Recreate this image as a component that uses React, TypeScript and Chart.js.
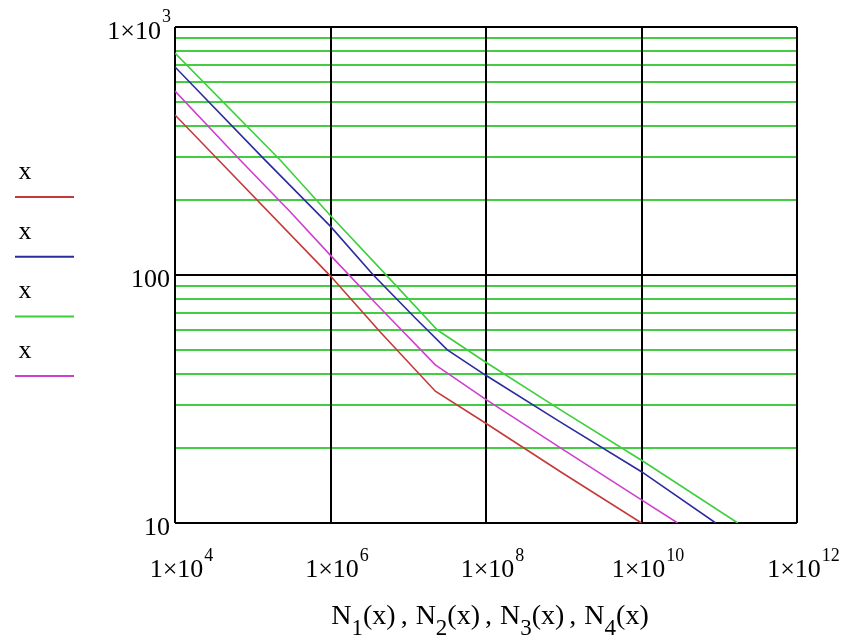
import { useEffect, useRef } from 'react';
import { Chart, registerables } from 'chart.js';
Chart.register(...registerables);

// ---- data (N on x axis, x on y axis) ----
const redN = [1e4, 1e6, 4.36e6, 2.23e7, 9.82e7, 9.08e8, 1e10];
const redX = [442, 99, 58.9, 34.0, 25.3, 16.1, 10];

const blueN = [1e4, 1.36e5, 1e6, 3.55e6, 1.23e7, 3.18e7, 9.82e7, 9.08e8, 1e10, 9.0e10];
const blueX = [690, 296, 157, 100, 67.1, 49.9, 39.5, 25.5, 16.1, 10];

const greenN = [1e4, 2.25e5, 1.01e6, 5.37e6, 2.37e7, 9.82e7, 9.08e8, 1e10, 1.73e11];
const greenX = [785, 291, 173, 99, 60.0, 44.6, 28.6, 17.9, 10];

const magentaN = [1e4, 6.87e4, 3.03e5, 1e6, 4.36e6, 2.23e7, 9.82e7, 9.08e8, 1e10, 2.92e10];
const magentaX = [552, 291, 180, 120, 73.6, 43.4, 31.6, 20.1, 12.4, 10];

const seriesLabels = ['x', 'x', 'x', 'x'];
const seriesColors = ['#c43a3a', '#2b2b9e', '#3ccf3c', '#cf3fcf'];

const xTicks = [1e4, 1e6, 1e8, 1e10, 1e12];
const xTickExps = ['4', '6', '8', '10', '12'];
const yTicks = [10, 20, 30, 40, 50, 60, 70, 80, 90, 100, 200, 300, 400, 500, 600, 700, 800, 900, 1000];
const yMajor = [10, 100, 1000];
const yLabelMain = ['10', '100', '1×10'];
const yLabelSup = ['', '', '3'];
const titleParts = [['N', '1'], ['N', '2'], ['N', '3'], ['N', '4']];

const FONT = '"Liberation Serif", "DejaVu Serif", serif';

const pts = (xs: number[], ys: number[]) => xs.map((v, i) => ({ x: v, y: ys[i] }));

const decorPlugin = {
  id: 'decor',
  afterDraw(chart: any) {
    const ctx = chart.ctx as CanvasRenderingContext2D;
    const xs = chart.scales.x;
    const ys = chart.scales.y;
    ctx.save();
    ctx.fillStyle = '#000';
    ctx.textBaseline = 'alphabetic';
    ctx.textAlign = 'left';
    const mainF = `26px ${FONT}`;
    const supF = `18px ${FONT}`;

    // x tick labels
    xTicks.forEach((v, i) => {
      const px = xs.getPixelForValue(v);
      ctx.font = mainF;
      const wm = ctx.measureText('1×10').width;
      ctx.font = supF;
      const wsp = ctx.measureText(xTickExps[i]).width;
      const start = px + 6 - (wm + wsp) / 2;
      ctx.font = mainF;
      ctx.fillText('1×10', start, 577);
      ctx.font = supF;
      ctx.fillText(xTickExps[i], start + wm + 1, 561);
    });

    // y tick labels
    yMajor.forEach((v, i) => {
      const py = ys.getPixelForValue(v);
      const base = py + 12;
      const right = 171;
      ctx.font = supF;
      const wsp = yLabelSup[i] ? ctx.measureText(yLabelSup[i]).width + 1 : 0;
      if (yLabelSup[i]) {
        ctx.textAlign = 'right';
        ctx.fillText(yLabelSup[i], right, base - 17);
      }
      ctx.font = mainF;
      ctx.textAlign = 'right';
      ctx.fillText(yLabelMain[i], right - wsp - (yLabelSup[i] ? 0 : 1), base);
      ctx.textAlign = 'left';
    });

    // x axis title with subscripts
    const tMain = `28px ${FONT}`;
    const tSub = `23px ${FONT}`;
    const pieces: { t: string; f: string; dy: number; gap: number }[] = [];
    titleParts.forEach((p, i) => {
      if (i > 0) pieces.push({ t: ',', f: tMain, dy: 0, gap: 5 });
      pieces.push({ t: p[0], f: tMain, dy: 0, gap: i > 0 ? 8 : 0 });
      pieces.push({ t: p[1], f: tSub, dy: 11, gap: 0 });
      pieces.push({ t: '(x)', f: tMain, dy: 0, gap: 0 });
    });
    let total = 0;
    pieces.forEach((pc) => {
      ctx.font = pc.f;
      total += pc.gap + ctx.measureText(pc.t).width;
    });
    let cx = (xs.left + xs.right) / 2 + 4 - total / 2;
    pieces.forEach((pc) => {
      ctx.font = pc.f;
      cx += pc.gap;
      ctx.fillText(pc.t, cx, 624 + pc.dy);
      cx += ctx.measureText(pc.t).width;
    });

    // legend on the left
    chart.data.datasets.forEach((ds: any, i: number) => {
      ctx.font = `26px ${FONT}`;
      ctx.textAlign = 'center';
      ctx.fillStyle = '#000';
      ctx.fillText(ds.label, 25, 179 + i * 59.7);
      ctx.strokeStyle = ds.borderColor;
      ctx.lineWidth = 2;
      ctx.beginPath();
      const ly = 197 + i * 59.7;
      ctx.moveTo(15, ly);
      ctx.lineTo(74, ly);
      ctx.stroke();
    });
    ctx.restore();
  },
};

export default function App() {
  const ref = useRef<HTMLCanvasElement | null>(null);
  useEffect(() => {
    if (!ref.current) return;
    const data = [
      pts(redN, redX),
      pts(blueN, blueX),
      pts(greenN, greenX),
      pts(magentaN, magentaX),
    ];
    const chart = new Chart(ref.current, {
      type: 'line',
      data: {
        datasets: data.map((d, i) => ({
          label: seriesLabels[i],
          data: d,
          borderColor: seriesColors[i],
          backgroundColor: seriesColors[i],
          borderWidth: 1.6,
          pointRadius: 0,
          tension: 0,
          fill: false,
        })),
      },
      options: {
        animation: false,
        responsive: false,
        events: [],
        layout: { padding: { top: 27, right: 50, left: 0, bottom: 0 } },
        plugins: { legend: { display: false }, tooltip: { enabled: false } },
        scales: {
          x: {
            type: 'logarithmic',
            min: 1e4,
            max: 1e12,
            afterBuildTicks: (s: any) => {
              s.ticks = xTicks.map((v) => ({ value: v }));
            },
            afterFit: (s: any) => {
              s.height = 118;
            },
            ticks: { display: false },
            grid: { color: '#000', lineWidth: 2, drawTicks: false, z: -1 },
            border: { display: false },
          },
          y: {
            type: 'logarithmic',
            min: 10,
            max: 1000,
            afterBuildTicks: (s: any) => {
              s.ticks = yTicks.map((v) => ({ value: v }));
            },
            afterFit: (s: any) => {
              s.width = 175;
            },
            ticks: { display: false },
            grid: {
              color: (c: any) => (yMajor.includes(c.tick?.value) ? '#000' : '#44cc44'),
              lineWidth: 2,
              drawTicks: false,
              z: -2,
            },
            border: { display: false },
          },
        },
      } as any,
      plugins: [decorPlugin],
    });
    return () => chart.destroy();
  }, []);
  return (
    <div style={{ position: 'fixed', left: 0, top: 0, width: 847, height: 641, background: '#fff' }}>
      <canvas ref={ref} width={847} height={641} style={{ width: 847, height: 641 }} />
    </div>
  );
}
